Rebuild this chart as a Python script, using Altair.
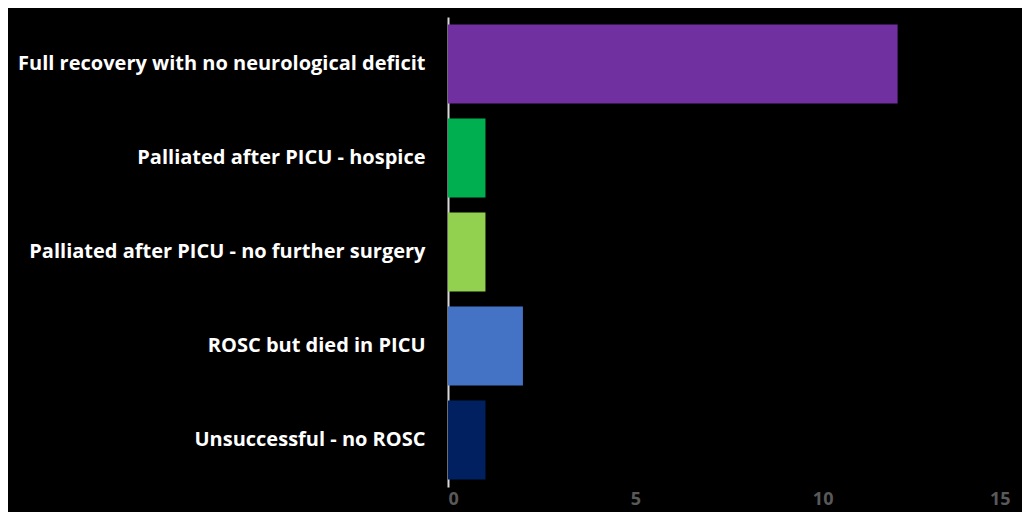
import altair as alt
import pandas as pd

categories = [
    "Full recovery with no neurological deficit",
    "Palliated after PICU - hospice",
    "Palliated after PICU - no further surgery",
    "ROSC but died in PICU",
    "Unsuccessful - no ROSC",
]
counts = [12, 1, 1, 2, 1]
colors = ["#7030A0", "#00B050", "#92D050", "#4472C4", "#002060"]
x_ticks = [0, 5, 10, 15]

df = pd.DataFrame({"outcome": categories, "count": counts, "color": colors})

chart = (
    alt.Chart(df)
    .mark_bar()
    .encode(
        y=alt.Y(
            "outcome:N",
            sort=categories,
            title=None,
            scale=alt.Scale(paddingInner=0.16, paddingOuter=0.08),
            axis=alt.Axis(
                labelColor="white",
                labelFont="Open Sans",
                labelFontWeight="bold",
                labelFontSize=20,
                labelPadding=23,
                labelLimit=500,
                ticks=False,
                domainColor="#d9d9d9",
                domainWidth=2,
            ),
        ),
        x=alt.X(
            "count:Q",
            title=None,
            scale=alt.Scale(domain=[0, 15], nice=False),
            axis=alt.Axis(
                values=x_ticks,
                labelColor="#595959",
                labelFont="Open Sans",
                labelFontWeight="bold",
                labelFontSize=18,
                labelPadding=3,
                ticks=False,
                domain=False,
                grid=False,
            ),
        ),
        color=alt.Color("color:N", scale=None, legend=None),
    )
    .properties(
        width=562,
        height=470,
        background="black",
        autosize=alt.AutoSizeParams(type="none"),
        padding={"left": 440, "top": 9, "right": 12, "bottom": 25},
    )
    .configure_view(stroke=None)
    .configure_axis(grid=False)
)

chart.save("out.html", embed_options={"renderer": "svg", "actions": False})
